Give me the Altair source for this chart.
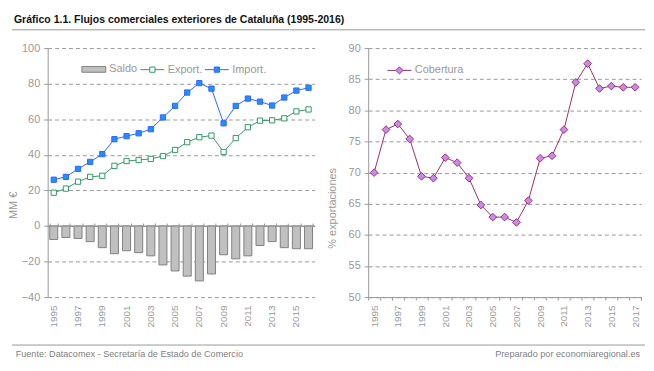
import altair as alt
import pandas as pd

# ---------------- data ----------------
years = [str(y) for y in range(1995, 2017)]
saldo = [-7.6, -6.5, -7.0, -8.8, -12.2, -15.6, -13.9, -15.0, -16.8, -21.9, -25.3,
         -28.2, -30.9, -27.0, -16.2, -18.5, -16.8, -11.0, -8.8, -12.2, -12.8, -12.8]
exports = [18.7, 21.0, 24.9, 27.6, 28.2, 33.8, 36.5, 37.1, 37.7, 39.3, 42.7,
           47.1, 49.9, 50.8, 41.6, 49.4, 55.5, 59.2, 59.4, 60.5, 64.4, 65.5]
imports = [26.0, 27.6, 32.1, 36.0, 40.4, 48.8, 50.5, 52.1, 54.4, 61.0, 67.5,
           75.0, 80.3, 77.2, 57.7, 67.5, 71.6, 69.9, 67.7, 72.2, 76.1, 77.7]
years_r = [str(y) for y in range(1995, 2018)]
cobertura = [70.0, 76.9, 77.8, 75.4, 69.4, 69.1, 72.4, 71.6, 69.1, 64.8, 62.85, 62.85,
             62.0, 65.5, 72.3, 72.7, 76.9, 84.5, 87.5, 83.5, 83.9, 83.7, 83.7]
left_ticks = list(range(-40, 101, 20))
right_ticks = list(range(50, 91, 5))
series_names = ["Export.", "Import."]
title_txt = "Gráfico 1.1. Flujos comerciales exteriores de Cataluña (1995-2016)"
source_txt = "Fuente: Datacomex - Secretaría de Estado de Comercio"
credit_txt = "Preparado por economiaregional.es"

# ---------------- styles ----------------
FONT = "Liberation Sans"
TXT = "#999999"
AX = "#999999"
odd_hide = "(toNumber(datum.value) - 1995) % 2 == 0 ? datum.value : ''"

df = pd.DataFrame({"year": years, "saldo": saldo, "s": "Saldo"})
long = pd.DataFrame({
    "year": years + years,
    "v": exports + imports,
    "series": [series_names[0]] * len(years) + [series_names[1]] * len(years),
})
dfr = pd.DataFrame({"year": years_r, "cob": cobertura, "s": "Cobertura"})

W_L, W_R, H = 269, 275, 251

xl = alt.Scale(type="band", domain=years, paddingInner=0.34, paddingOuter=0.17)
yl = alt.Scale(domain=[-40, 100], nice=False, zero=False)

yaxis_l = alt.Axis(values=left_ticks, grid=True, gridDash=[4, 3], gridColor=AX,
                   domainColor=AX, tickColor=AX, tickSize=4, labelPadding=4,
                   labelColor=TXT, labelFontSize=11, title="MM €", titleColor=TXT,
                   titleFontSize=11, titleFontWeight="normal", titleX=-29, titleY=158)

xaxis_zero = alt.Axis(orient="top", offset=-179.3, labels=False, ticks=True,
                      tickBand="extent", tickSize=3, tickColor=AX, domain=True,
                      domainColor=AX, grid=False, title=None)
xaxis_lab = alt.Axis(orient="bottom", labelExpr=odd_hide, labelAngle=270, domain=False,
                     ticks=False, tickSize=0, labelPadding=8, labelColor=TXT,
                     labelFontSize=10, grid=False, title=None)

RECT_PATH = "M-1,-0.24H1V0.24H-1Z"
LS_PATH = "M-1,0H-0.22M0.22,0H1M-0.22,-0.22H0.22V0.22H-0.22Z"
DM_PATH = "M-1,0H-0.3M0.3,0H1M-0.3,0L0,-0.3L0.3,0L0,0.3Z"

leg_common = dict(title=None, orient="none", labelFont=FONT, labelFontSize=11,
                  labelColor=TXT, labelOffset=3, symbolSize=576, symbolStrokeWidth=1,
                  direction="horizontal", columnPadding=0)

bars = alt.Chart(df).mark_bar(stroke="#808080", strokeWidth=1).encode(
    x=alt.X("year:O", scale=xl, axis=xaxis_zero),
    y=alt.Y("saldo:Q", scale=yl, axis=yaxis_l),
    color=alt.Color("s:N", scale=alt.Scale(domain=["Saldo"], range=["#c0c0c0"]),
                    legend=alt.Legend(legendX=34, legendY=9, symbolType=RECT_PATH,
                                      symbolStrokeColor="#808080", **leg_common)),
)
zero_line = alt.Chart(pd.DataFrame({"z": [0]})).mark_rule(color=AX, strokeWidth=1).encode(
    y=alt.Y("z:Q", scale=yl, axis=yaxis_l))

line_e = alt.Chart(long).transform_filter(alt.datum.series == "Export.").mark_line(
    color="#339966", strokeWidth=1).encode(
    x=alt.X("year:O", scale=xl, axis=xaxis_lab, bandPosition=0.5),
    y=alt.Y("v:Q", scale=yl, axis=yaxis_l),
)
line_i = alt.Chart(long).transform_filter(alt.datum.series == "Import.").mark_line(
    color="#3366ff", strokeWidth=1).encode(
    x=alt.X("year:O", scale=xl, axis=None, bandPosition=0.5),
    y=alt.Y("v:Q", scale=yl, axis=yaxis_l),
)
leg2 = alt.Legend(legendX=93, legendY=9, symbolType=LS_PATH, **leg_common)
pts_l = alt.Chart(long).mark_point(shape="square", size=28, opacity=1, strokeWidth=1).encode(
    x=alt.X("year:O", scale=xl, axis=None, bandPosition=0.5),
    y=alt.Y("v:Q", scale=yl, axis=yaxis_l),
    stroke=alt.Stroke("series:N", scale=alt.Scale(domain=series_names,
                                                  range=["#339966", "#3366ff"]), legend=leg2),
    fill=alt.Fill("series:N", scale=alt.Scale(domain=series_names,
                                              range=["#ffffff", "#1e90ff"]), legend=leg2),
)

one = pd.DataFrame({"a": [0]})
bound = alt.Chart(one).mark_rule(opacity=0).encode(
    x=alt.value(-36), x2=alt.value(602), y=alt.value(-38.7))
rule_top = alt.Chart(one).mark_rule(color="#999999", strokeWidth=1).encode(
    x=alt.value(-36), x2=alt.value(602), y=alt.value(-18.4))
rule_bot = alt.Chart(one).mark_rule(color="#999999", strokeWidth=1).encode(
    x=alt.value(-36), x2=alt.value(602), y=alt.value(299.3))
t_title = alt.Chart(pd.DataFrame({"t": [title_txt]})).mark_text(
    align="left", baseline="alphabetic", font=FONT, fontWeight="bold",
    fontSize=10.6, color="#111111").encode(text="t:N", x=alt.value(-34), y=alt.value(-25.4))
t_src = alt.Chart(pd.DataFrame({"t": [source_txt]})).mark_text(
    align="left", baseline="alphabetic", font=FONT, fontSize=9.2,
    color="#808080").encode(text="t:N", x=alt.value(-32.3), y=alt.value(311.6))
t_cred = alt.Chart(pd.DataFrame({"t": [credit_txt]})).mark_text(
    align="right", baseline="alphabetic", font=FONT, fontSize=9.2,
    color="#808080").encode(text="t:N", x=alt.value(597), y=alt.value(311.6))

left = alt.layer(bars, zero_line, line_e, line_i, pts_l, bound, rule_top, rule_bot,
                 t_title, t_src, t_cred).resolve_axis(x="independent").properties(
    width=W_L, height=H)

# ---------------- right panel ----------------
xr = alt.Scale(type="band", domain=years_r, paddingInner=0, paddingOuter=0)
yr = alt.Scale(domain=[50, 90], nice=False, zero=False)
xaxis_r = alt.Axis(labelExpr=odd_hide, labelAngle=270, tickBand="extent", tickSize=3,
                   tickColor=AX, domainColor=AX, labelColor=TXT, labelFontSize=10,
                   labelPadding=5, grid=False, title=None)
yaxis_r = alt.Axis(values=right_ticks, grid=True, gridDash=[4, 3], gridColor=AX,
                   domainColor=AX, tickColor=AX, tickSize=4, labelPadding=4,
                   labelColor=TXT, labelFontSize=11, title="% exportaciones",
                   titleColor=TXT, titleFontSize=11, titleFontWeight="normal",
                   titleX=-31, titleY=161)

line_c = alt.Chart(dfr).mark_line(color="#993366", strokeWidth=1).encode(
    x=alt.X("year:O", scale=xr, axis=xaxis_r, bandPosition=0.5),
    y=alt.Y("cob:Q", scale=yr, axis=yaxis_r),
)
leg3 = alt.Legend(legendX=19, legendY=10, symbolType=DM_PATH, **leg_common)
pts_c = alt.Chart(dfr).mark_point(shape="diamond", size=60, opacity=1, strokeWidth=1).encode(
    x=alt.X("year:O", scale=xr, axis=xaxis_r, bandPosition=0.5),
    y=alt.Y("cob:Q", scale=yr, axis=yaxis_r),
    stroke=alt.Stroke("s:N", scale=alt.Scale(domain=["Cobertura"], range=["#993366"]),
                      legend=leg3),
    fill=alt.Fill("s:N", scale=alt.Scale(domain=["Cobertura"], range=["#cc88ee"]),
                  legend=leg3),
)
right = alt.layer(line_c, pts_c).properties(width=W_R, height=H)

chart = alt.hconcat(left, right, spacing=54, bounds="flush").resolve_scale(
    color="independent", stroke="independent", fill="independent"
).properties(
    padding=0
).configure_view(stroke=None).configure_axis(
    labelFont=FONT, titleFont=FONT
).configure_legend(labelFont=FONT)

chart.save("out.html", embed_options={"renderer": "svg", "actions": False})
